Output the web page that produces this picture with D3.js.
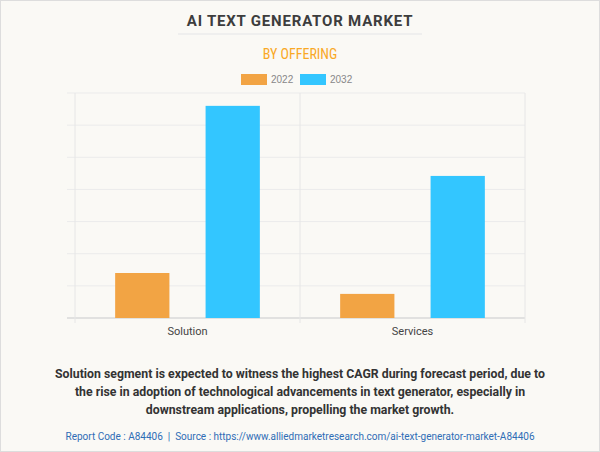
<!DOCTYPE html>
<html><head><meta charset="utf-8">
<script src="https://cdn.jsdelivr.net/npm/d3@7"></script>
<style>
body{margin:0;background:#fff;}
svg{display:block;font-family:Roboto,"Liberation Sans",sans-serif;}
</style></head>
<body>
<svg id="svg" width="600" height="452"></svg>
<script>
const categories = ['Solution','Services']
const years = ['2022','2032']
const values2022 = [1.4, 0.75]
const values2032 = [6.6, 4.42]
const colors = ['#f2a444','#33c6ff']

const svg = d3.select('#svg')
svg.append('rect').attr('x',0.5).attr('y',0.5).attr('width',599).attr('height',451)
  .attr('fill','#faf9f5').attr('stroke','#dddddd')

svg.append('text').attr('x',300).attr('y',26).attr('text-anchor','middle')
  .attr('font-size',15).attr('font-weight','bold').attr('fill','#3d3d3d').attr('letter-spacing',0.8)
  .text('AI TEXT GENERATOR MARKET')
svg.append('line').attr('x1',178).attr('x2',422).attr('y1',34).attr('y2',34).attr('stroke','#ebebeb').attr('stroke-width',1.5)
svg.append('text').attr('x',300).attr('y',59).attr('text-anchor','middle')
  .attr('font-size',14).attr('fill','#f9a825').attr('font-family','"Liberation Sans Narrow","Roboto Condensed",Roboto,sans-serif')
  .text('BY OFFERING')

// legend
const lg = svg.append('g')
years.forEach((y,i)=>{
  const x0 = 241 + i*59
  lg.append('rect').attr('x',x0).attr('y',74).attr('width',26).attr('height',11).attr('fill',colors[i])
  lg.append('text').attr('x',x0+30).attr('y',83).attr('font-size',10).attr('fill','#888')
    .attr('font-family','"Liberation Sans Narrow",sans-serif').text(y)
})

const m = {l:75, r:525, t:93, b:318}
const x = d3.scaleBand().domain(categories).range([m.l,m.r])
const x1 = d3.scaleBand().domain(years).range([0,x.bandwidth()]).paddingInner(0.4).paddingOuter(0.444)
const y = d3.scaleLinear().domain([0,7]).range([m.b,m.t])

const grid = svg.append('g')
grid.selectAll('line.h').data(d3.range(0,8)).join('line')
  .attr('x1',m.l-8).attr('x2',m.r).attr('y1',d=>y(d)).attr('y2',d=>y(d))
  .attr('stroke',d=>d===0?'#d8d8d8':'#ebebeb').attr('stroke-width',d=>d===0?1.5:1)
grid.selectAll('line.v').data([m.l, m.l+x.bandwidth(), m.r]).join('line')
  .attr('x1',d=>d).attr('x2',d=>d).attr('y1',m.t).attr('y2',m.b+5)
  .attr('stroke','#e6e6e6')

const series = [values2022, values2032]
categories.forEach((c,ci)=>{
  years.forEach((yr,yi)=>{
    const v = series[yi][ci]
    svg.append('rect').attr('x',x(c)+x1(yr)).attr('width',x1.bandwidth())
      .attr('y',y(v)).attr('height',y(0)-y(v)).attr('fill',colors[yi])
  })
  svg.append('text').attr('x',x(c)+x.bandwidth()/2).attr('y',335).attr('text-anchor','middle')
    .attr('font-size',11).attr('fill','#444').text(c)
})

const lines = ['Solution segment is expected to witness the highest CAGR during forecast period, due to',
  'the rise in adoption of technological advancements in text generator, especially in',
  'downstream applications, propelling the market growth.']
lines.forEach((t,i)=>svg.append('text').attr('x',300).attr('y',378+i*18).attr('text-anchor','middle')
  .attr('font-size',12.3).attr('font-weight','bold').attr('fill','#333').text(t))

svg.append('text').attr('x',300).attr('y',440).attr('text-anchor','middle')
  .attr('font-size',10).attr('fill','#2f6db5').attr('xml:space','preserve')
  .text('Report Code : A84406  |  Source : https://www.alliedmarketresearch.com/ai-text-generator-market-A84406')
</script>
</body></html>
